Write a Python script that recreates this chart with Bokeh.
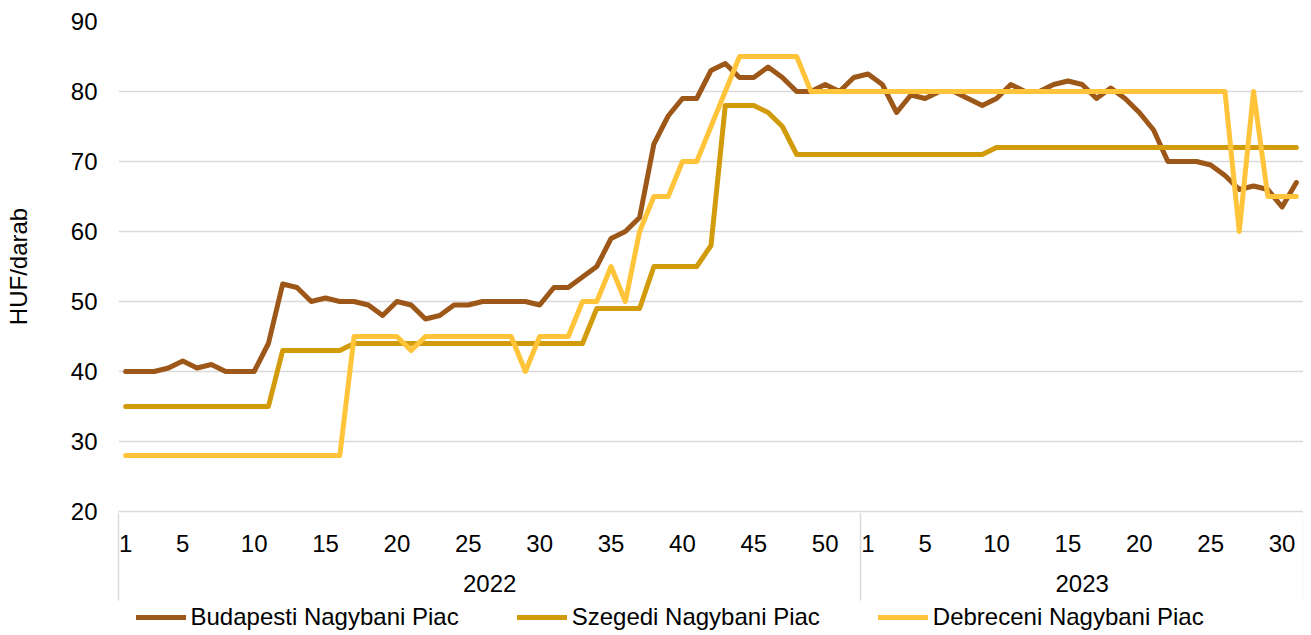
from bokeh.plotting import figure
from bokeh.layouts import column
from bokeh.models import Range1d, FixedTicker, LinearAxis, Legend, LegendItem, ColumnDataSource
from bokeh.embed import file_html
from bokeh.resources import INLINE

# ---- data ----
years = ["2022", "2023"]
weeks_2022 = list(range(1, 53))
weeks_2023 = list(range(1, 32))
tick_weeks_2022 = [1, 5, 10, 15, 20, 25, 30, 35, 40, 45, 50]
tick_weeks_2023 = [1, 5, 10, 15, 20, 25, 30]
y_ticks = [20, 30, 40, 50, 60, 70, 80, 90]

budapest = [40, 40, 40, 40.5, 41.5, 40.5, 41, 40, 40, 40,
            44, 52.5, 52, 50, 50.5, 50, 50, 49.5, 48, 50,
            49.5, 47.5, 48, 49.5, 49.5, 50, 50, 50, 50, 49.5,
            52, 52, 53.5, 55, 59, 60, 62, 72.5, 76.5, 79,
            79, 83, 84, 82, 82, 83.5, 82, 80, 80, 81,
            80, 82,
            82.5, 81, 77, 79.5, 79, 80, 80, 79, 78, 79,
            81, 80, 80, 81, 81.5, 81, 79, 80.5, 79, 77,
            74.5, 70, 70, 70, 69.5, 68, 66, 66.5, 66, 63.5, 67]

szeged = [35, 35, 35, 35, 35, 35, 35, 35, 35, 35,
          35, 43, 43, 43, 43, 43, 44, 44, 44, 44,
          44, 44, 44, 44, 44, 44, 44, 44, 44, 44,
          44, 44, 44, 49, 49, 49, 49, 55, 55, 55,
          55, 58, 78, 78, 78, 77, 75, 71, 71, 71,
          71, 71,
          71, 71, 71, 71, 71, 71, 71, 71, 71, 72,
          72, 72, 72, 72, 72, 72, 72, 72, 72, 72,
          72, 72, 72, 72, 72, 72, 72, 72, 72, 72, 72]

debrecen = [28, 28, 28, 28, 28, 28, 28, 28, 28, 28,
            28, 28, 28, 28, 28, 28, 45, 45, 45, 45,
            43, 45, 45, 45, 45, 45, 45, 45, 40, 45,
            45, 45, 50, 50, 55, 50, 60, 65, 65, 70,
            70, 75, 80, 85, 85, 85, 85, 85, 80, 80,
            80, 80,
            80, 80, 80, 80, 80, 80, 80, 80, 80, 80,
            80, 80, 80, 80, 80, 80, 80, 80, 80, 80,
            80, 80, 80, 80, 80, 80, 60, 80, 65, 65, 65]

series_names = ["Budapesti Nagybani Piac", "Szegedi Nagybani Piac", "Debreceni Nagybani Piac"]
series_values = [budapest, szeged, debrecen]
colors = ["#9C5719", "#D29B0C", "#FFC439"]

FONT = "Liberation Sans"
TXT = "#000000"
GRID = "#d9d9d9"

n22 = len(weeks_2022)
n23 = len(weeks_2023)
n = n22 + n23
x = list(range(n))

week_tick_pos = [w - 1 for w in tick_weeks_2022] + [n22 + w - 1 for w in tick_weeks_2023]
week_tick_lbl = [str(w) for w in tick_weeks_2022] + [str(w) for w in tick_weeks_2023]
year_centers = [(n22 - 1) / 2, n22 + (n23 - 1) / 2]
boundaries = [-0.5, n22 - 0.5, n - 0.5]

W = 1303
H_MAIN = 604
H_LEG = 27

p = figure(width=W, height=H_MAIN,
           x_range=Range1d(-0.5, n - 0.5), y_range=Range1d(y_ticks[0], y_ticks[-1]),
           output_backend="svg", toolbar_location=None,
           min_border_left=118, min_border_right=0, min_border_top=21, min_border_bottom=88)
p.outline_line_color = None
p.background_fill_color = "white"
p.border_fill_color = "white"

# grid
p.xgrid.visible = False
p.ygrid.ticker = FixedTicker(ticks=y_ticks)
p.ygrid.grid_line_color = GRID
p.ygrid.grid_line_width = 1.5

# y axis
ya = p.yaxis[0]
ya.ticker = FixedTicker(ticks=y_ticks)
ya.axis_line_color = None
ya.major_tick_line_color = None
ya.minor_tick_line_color = None
ya.major_tick_out = 0
ya.major_tick_in = 0
ya.minor_tick_out = 0
ya.minor_tick_in = 0
ya.major_label_standoff = 21
ya.major_label_text_font = FONT
ya.major_label_text_font_size = "24px"
ya.major_label_text_color = TXT
ya.axis_label = "HUF/darab"
ya.axis_label_text_font = FONT
ya.axis_label_text_font_size = "24px"
ya.axis_label_text_font_style = "normal"
ya.axis_label_text_color = TXT
ya.axis_label_standoff = 36

# week axis (first level)
xa = p.xaxis[0]
xa.ticker = FixedTicker(ticks=week_tick_pos)
xa.major_label_overrides = {pos: lbl for pos, lbl in zip(week_tick_pos, week_tick_lbl)}
xa.major_tick_line_color = None
xa.minor_tick_line_color = None
xa.major_tick_out = 0
xa.major_tick_in = 0
xa.minor_tick_out = 0
xa.minor_tick_in = 0
xa.axis_line_color = GRID
xa.axis_line_width = 1.5
xa.major_label_standoff = 23
xa.major_label_text_font = FONT
xa.major_label_text_font_size = "24px"
xa.major_label_text_color = TXT

# year axis (second level)
year_axis = LinearAxis(ticker=FixedTicker(ticks=year_centers),
                       major_label_overrides={c: y for c, y in zip(year_centers, years)})
year_axis.axis_line_color = None
year_axis.major_tick_line_color = None
year_axis.minor_tick_line_color = None
year_axis.major_tick_out = 0
year_axis.major_tick_in = 0
year_axis.minor_tick_out = 0
year_axis.minor_tick_in = 0
year_axis.major_label_standoff = 20
year_axis.major_label_text_font = FONT
year_axis.major_label_text_font_size = "24px"
year_axis.major_label_text_color = TXT
p.add_layout(year_axis, "below")

# separator axis: vertical boundary lines drawn upward through both label rows
sep_axis = LinearAxis(ticker=FixedTicker(ticks=boundaries),
                      major_label_overrides={b: " " for b in boundaries})
sep_axis.axis_line_color = None
sep_axis.major_tick_out = 6
sep_axis.major_tick_in = 81
sep_axis.major_tick_line_color = GRID
sep_axis.major_tick_line_width = 1.5
sep_axis.minor_tick_line_color = None
sep_axis.minor_tick_out = 0
sep_axis.minor_tick_in = 0
sep_axis.major_label_standoff = 0
sep_axis.major_label_text_font_size = "1px"
p.add_layout(sep_axis, "below")

# lines
for name, vals, col in zip(series_names, series_values, colors):
    src = ColumnDataSource(dict(x=x, y=vals))
    p.line("x", "y", source=src, line_color=col, line_width=5,
           line_join="round", line_cap="round")

# legend strip (separate figure, its series sit outside its view)
lg = figure(width=W, height=H_LEG, x_range=p.x_range, y_range=Range1d(1000, 1001),
            output_backend="svg", toolbar_location=None,
            x_axis_location=None, y_axis_location=None,
            min_border_left=0, min_border_right=0, min_border_top=0, min_border_bottom=0)
lg.outline_line_color = None
lg.grid.visible = False
items = []
for name, vals, col in zip(series_names, series_values, colors):
    src = ColumnDataSource(dict(x=x, y=vals))
    r = lg.line("x", "y", source=src, line_color=col, line_width=5,
                line_join="round", line_cap="round")
    items.append(LegendItem(label=name, renderers=[r]))

legend = Legend(items=items, orientation="horizontal", location=(17.5, 0),
                spacing=58, glyph_width=50, glyph_height=20, label_height=20,
                label_standoff=5, padding=0, margin=0,
                border_line_color=None, background_fill_alpha=0,
                label_text_font=FONT, label_text_font_size="24px", label_text_color=TXT)
lg.add_layout(legend)

layout = column(p, lg, spacing=0)
open("out.html", "w").write(file_html(layout, INLINE))
